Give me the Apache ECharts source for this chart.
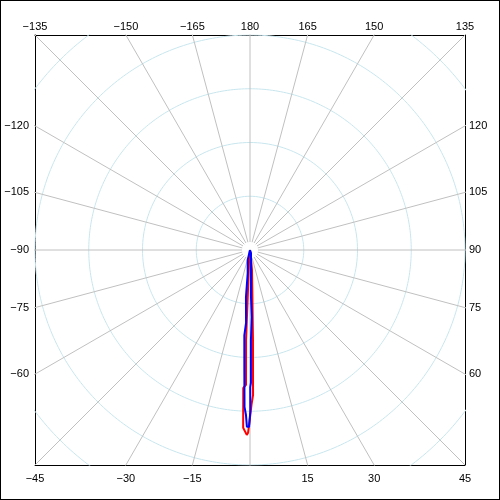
<!DOCTYPE html>
<html>
<head>
<meta charset="utf-8">
<script src="https://cdn.jsdelivr.net/npm/echarts@6/dist/echarts.min.js"></script>
<style>
  body { margin: 0; background: #fff; }
  #chart { width: 500px; height: 500px; }
  #frame { position: absolute; left: 0; top: 0; width: 500px; height: 500px; box-sizing: border-box; border: 1px solid #000; pointer-events: none; }
</style>
</head>
<body>
<div id="chart"></div>
<div id="frame"></div>
<script>
// angle labels on each side of the square frame (0 = down, 90 = right)
const bottomAngles = [-45, -30, -15, 15, 30, 45]
const topAngles = [-135, -150, -165, 180, 165, 150, 135]
const leftAngles = [-120, -105, -90, -75, -60]
const rightAngles = [120, 105, 90, 75, 60]

// polar grid
const ringRadii = [10, 20, 30, 40, 50]
const spokeAngles = [0, 15, 30, 45, 60, 75, 90, 105, 120, 135, 150, 165,
  180, 195, 210, 225, 240, 255, 270, 285, 300, 315, 330, 345]

// traces: angle (deg), radius
const redAngle = [0, -4.8, -2.9, -2.5, -1.7, -2.8, -2.2, -1.0, -0.6, -0.1, 0.55, 1.2, 1.9, 3.3, 5.7, 7, 0]
const redRadius = [0, 2.2, 7.4, 16.8, 25.1, 25.7, 33.1, 34.4, 34.0, 31.6, 28.8, 27.0, 16.7, 7.4, 3.7, 1.5, 0]
const blueAngle = [0, -13, -5.7, -4.9, -3.1, -3.8, -2.7, -2.0, -1.4, -1.0, -0.3, 0.1, 0.1, 0.4, 0.6, 1.5, 1.2, 18, 0]
const blueRadius = [0, 1.9, 4.3, 8.8, 13.6, 15.9, 22.3, 29.2, 30.7, 32.9, 32.9, 30.1, 25.5, 24.7, 16.7, 12.5, 8.7, 0.6, 0]

const R = 40 // half width of the square frame
const spokeInner = 1.5
const spokeOuter = 60
const rad = Math.PI / 180

function toXY (a, r) {
  return [r * Math.sin(a * rad), -r * Math.cos(a * rad)]
}
function clampR (v) {
  return Math.max(-R, Math.min(R, v))
}
function fmt (a) {
  return String(Math.round(a / rad)).replace('-', '\u2212')
}

const spokeData = []
spokeAngles.forEach(a => {
  spokeData.push(toXY(a, spokeInner), toXY(a, spokeOuter), [null, null])
})
const ringData = []
ringRadii.forEach(r => {
  for (let a = 0; a <= 360; a += 1) ringData.push(toXY(a, r))
  ringData.push([null, null])
})
const redData = redAngle.map((a, i) => toXY(a, redRadius[i]))
const blueData = blueAngle.map((a, i) => toXY(a, blueRadius[i]))

const labelFont = { color: '#000', fontSize: 11, fontFamily: 'Liberation Sans, Arial, sans-serif' }
function axis (pos, values, toAngle, margin) {
  return {
    type: 'value',
    position: pos,
    min: -R,
    max: R,
    axisLine: { show: true, onZero: false, lineStyle: { color: '#000', width: 1 } },
    axisTick: { show: false },
    splitLine: { show: false },
    axisLabel: Object.assign({
      margin: margin,
      customValues: values,
      formatter: v => fmt(toAngle(v))
    }, labelFont)
  }
}

const chart = echarts.init(document.getElementById('chart'))
chart.setOption({
  animation: false,
  grid: { left: 35, top: 35, width: 430, height: 430 },
  xAxis: [
    axis('bottom', bottomAngles.map(a => clampR(R * Math.tan(a * rad))), v => Math.atan2(v, R), 8),
    axis('top', topAngles.map(a => clampR(-R * Math.tan(a * rad))), v => Math.atan2(v, -R), 3)
  ],
  yAxis: [
    axis('left', leftAngles.map(a => clampR(R / Math.tan(a * rad))), v => Math.atan2(-R, -v), 6),
    axis('right', rightAngles.map(a => clampR(-R / Math.tan(a * rad))), v => Math.atan2(R, -v), 4)
  ],
  series: [
    {
      type: 'line', silent: true, symbol: 'none', connectNulls: false,
      lineStyle: { color: '#c8e6ee', width: 1 },
      data: ringData
    },
    {
      type: 'line', silent: true, symbol: 'none', connectNulls: false,
      lineStyle: { color: '#c0c0c0', width: 1 },
      data: spokeData
    },
    {
      type: 'line', symbol: 'none',
      lineStyle: { color: '#ff0000', width: 2 },
      data: redData
    },
    {
      type: 'line', symbol: 'none',
      lineStyle: { color: '#0000ff', width: 2 },
      data: blueData
    }
  ]
})
</script>
</body>
</html>
